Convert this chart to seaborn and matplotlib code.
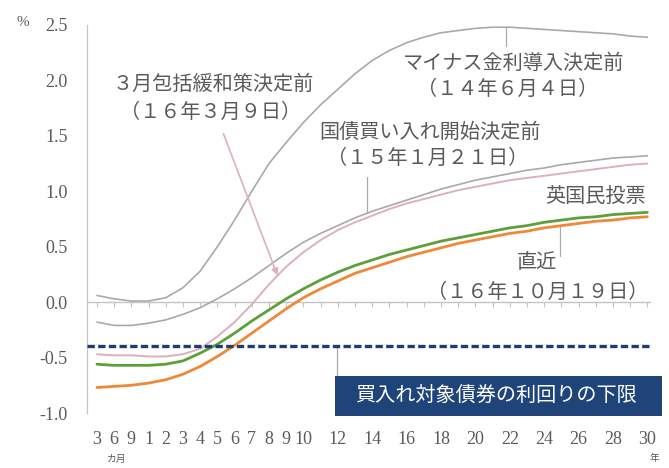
import numpy as np
import pandas as pd
import matplotlib
matplotlib.use("Agg")
import matplotlib.pyplot as plt
import seaborn as sns
from matplotlib.patches import Rectangle

# ---------------- data ----------------
maturities = ["3ヶ月", "6ヶ月", "9ヶ月"] + [f"{y}年" for y in range(1, 31)]
tick_labels = ["3", "6", "9"] + [str(y) if (y <= 10 or y % 2 == 0) else "" for y in range(1, 31)]

curve_140604 = [0.06, 0.03, 0.01, 0.01, 0.04, 0.13, 0.28, 0.50, 0.74, 1.00, 1.25, 1.44, 1.62,
                1.78, 1.92, 2.06, 2.18, 2.27, 2.34, 2.39, 2.43, 2.45, 2.47, 2.48, 2.48, 2.47,
                2.46, 2.45, 2.44, 2.43, 2.42, 2.40, 2.39]
curve_150121 = [-0.18, -0.21, -0.21, -0.19, -0.16, -0.11, -0.05, 0.03, 0.12, 0.22, 0.33, 0.44,
                0.54, 0.62, 0.69, 0.76, 0.82, 0.87, 0.92, 0.97, 1.02, 1.06, 1.10, 1.13, 1.16,
                1.19, 1.21, 1.24, 1.26, 1.28, 1.30, 1.31, 1.32]
curve_160309 = [-0.47, -0.48, -0.48, -0.49, -0.49, -0.47, -0.42, -0.31, -0.18, -0.02, 0.16, 0.32,
                0.45, 0.56, 0.65, 0.72, 0.78, 0.84, 0.89, 0.93, 0.97, 1.01, 1.04, 1.07, 1.10,
                1.12, 1.14, 1.16, 1.18, 1.20, 1.22, 1.24, 1.25]
curve_brexit = [-0.56, -0.57, -0.57, -0.57, -0.56, -0.53, -0.46, -0.38, -0.28, -0.17, -0.07, 0.03,
                0.12, 0.20, 0.27, 0.33, 0.38, 0.43, 0.47, 0.51, 0.55, 0.58, 0.61, 0.64, 0.67,
                0.69, 0.72, 0.74, 0.76, 0.77, 0.79, 0.80, 0.81]
curve_161019 = [-0.77, -0.76, -0.75, -0.73, -0.70, -0.65, -0.58, -0.49, -0.39, -0.28, -0.17, -0.06,
                0.04, 0.12, 0.19, 0.26, 0.31, 0.36, 0.41, 0.45, 0.49, 0.53, 0.56, 0.59, 0.62,
                0.64, 0.67, 0.69, 0.71, 0.73, 0.74, 0.76, 0.77]
lower_limit = -0.4
y_ticks = [-1.0, -0.5, 0.0, 0.5, 1.0, 1.5, 2.0, 2.5]

series_names = ["マイナス金利導入決定前", "国債買い入れ開始決定前", "3月包括緩和策決定前",
                "英国民投票", "直近"]
series_values = [curve_140604, curve_150121, curve_160309, curve_brexit, curve_161019]

# ---------------- style ----------------
sns.set_style("white")
plt.rcParams["font.family"] = ["Noto Sans CJK JP", "DejaVu Sans"]
TXT = "#5a5a5a"
colors = {"マイナス金利導入決定前": "#a9a9a9", "国債買い入れ開始決定前": "#a9a9a9",
          "3月包括緩和策決定前": "#dcb0bd", "英国民投票": "#5d9f3a", "直近": "#ef8838"}
widths = {"マイナス金利導入決定前": 1.2, "国債買い入れ開始決定前": 1.2,
          "3月包括緩和策決定前": 1.4, "英国民投票": 2.0, "直近": 2.0}

pos = np.arange(len(maturities))
df = pd.concat([pd.DataFrame({"pos": pos, "maturity": maturities, "yield": v, "series": n})
                for n, v in zip(series_names, series_values)], ignore_index=True)

W, H = 669, 468
fig = plt.figure(figsize=(W / 100, H / 100), dpi=100)
ax = fig.add_axes([87 / W, 1 - 413 / H, 563.8 / W, 388 / H])

# zero line with small ticks
ax.axhline(0, color="#c4c4c4", lw=1.0, zorder=1)
ax.plot(pos, np.zeros(len(pos)), linestyle="none", marker=3, markersize=3.5,
        color="#c4c4c4", markeredgewidth=0.8, zorder=1)

for n in series_names:
    sns.lineplot(data=df[df["series"] == n], x="pos", y="yield", color=colors[n],
                 lw=widths[n], ax=ax, legend=False, zorder=3)

ax.axhline(lower_limit, color="#1f3d72", lw=2.4, dashes=(2.2, 1.0), zorder=4)

ax.set_xlim(-0.58, 32.2)
ax.set_ylim(-1.0, 2.5)
ax.set_xticks(pos)
ax.set_xticklabels(tick_labels, family="Liberation Serif", fontsize=13, color=TXT)
ax.tick_params(axis="x", length=0, pad=13)
ax.set_yticks(y_ticks)
ax.set_yticklabels([f"{t:.1f}" for t in y_ticks], family="Liberation Serif", fontsize=13,
                   color=TXT)
ax.tick_params(axis="y", length=4, width=0.8, color="#c4c4c4", pad=10)
ax.set_xlabel("")
ax.set_ylabel("")
for s in ["top", "right", "bottom"]:
    ax.spines[s].set_visible(False)
ax.spines["left"].set_color("#c4c4c4")
ax.spines["left"].set_linewidth(0.9)

# units
fig.text(23 / W, 1 - 22 / H, "%", fontsize=11, color=TXT, ha="center", va="center",
         family="Liberation Serif")
fig.text(117 / W, 1 - 459 / H, "カ月", fontsize=7, color=TXT, ha="center", va="center")
fig.text(654 / W, 1 - 458 / H, "年", fontsize=7, color=TXT, ha="center", va="center")

fs = 14.5
def label(xv, yv, s):
    ax.text(xv, yv, s, fontsize=fs, color=TXT, ha="center", va="center", zorder=5)

label(24.2, 2.15, "マイナス金利導入決定前")
label(23.85, 1.92, "（１４年６月４日）")
label(19.35, 1.53, "国債買い入れ開始決定前")
label(19.25, 1.30, "（１５年１月２１日）")
label(6.75, 1.96, "３月包括緩和策決定前")
label(6.6, 1.71, "（１６年３月９日）")
label(29.0, 0.95, "英国民投票")
label(25.6, 0.36, "直近")
label(25.6, 0.09, "（１６年１０月１９日）")

# leader lines
xa = 23.8
ax.plot([xa, xa], [2.31, np.interp(xa, pos, curve_140604)], color="#a9a9a9", lw=0.9)
xb = 15.7
ax.plot([xb, xb], [1.13, np.interp(xb, pos, curve_150121)], color="#a9a9a9", lw=0.9)
xe = 26.9
ax.plot([xe, xe], [0.42, np.interp(xe, pos, curve_161019)], color="#a9a9a9", lw=0.9)
xc = 10.5
ax.annotate("", xy=(xc, np.interp(xc, pos, curve_160309)), xytext=(7.35, 1.52),
            arrowprops=dict(arrowstyle="-|>", color="#dcb0bd", lw=1.2,
                            mutation_scale=10, shrinkA=0, shrinkB=0), zorder=5)

# lower-limit box
box_x0, box_x1, box_y0, box_y1 = 13.84, 32.85, -1.03, -0.67
ax.plot([13.95, 13.95], [lower_limit, box_y1], color="#a9a9a9", lw=0.9, zorder=2)
ax.add_patch(Rectangle((box_x0, box_y0), box_x1 - box_x0, box_y1 - box_y0,
                       facecolor="#1e4479", edgecolor="none", clip_on=False, zorder=5))
ax.text((box_x0 + box_x1) / 2 - 0.1, (box_y0 + box_y1) / 2, "買入れ対象債券の利回りの下限",
        fontsize=14.5, color="white", ha="center", va="center", zorder=6, clip_on=False)

fig.savefig("out.png", dpi=100)
